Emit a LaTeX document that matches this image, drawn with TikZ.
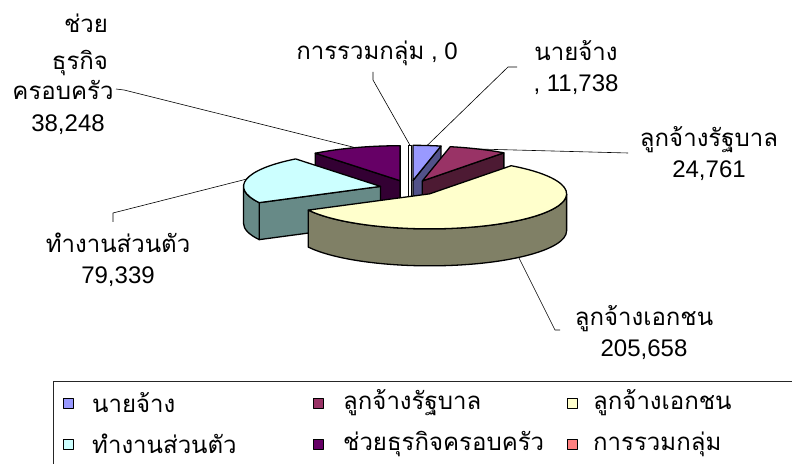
\documentclass[tikz,border=0pt]{standalone}
\usepackage{fontspec}
\setmainfont{Liberation Sans}
\newfontfamily\thaifont[Script=Thai]{Loma}
\usetikzlibrary{calc}
\definecolor{empblue}{HTML}{9999FF}
\definecolor{empblueside}{HTML}{52528A}
\definecolor{govred}{HTML}{993366}
\definecolor{govredside}{HTML}{4D1A33}
\definecolor{privyellow}{HTML}{FFFFCC}
\definecolor{privyellowside}{HTML}{808066}
\definecolor{owncyan}{HTML}{CCFFFF}
\definecolor{owncyanside}{HTML}{678A87}
\definecolor{famplum}{HTML}{660066}
\definecolor{famplumside}{HTML}{330033}
\definecolor{groupsalmon}{HTML}{FF8080}
\def\pierx{137}
\def\piery{35}
\def\pieh{37}
\def\pieex{0.22}
% one exploded slice: name, from angle, to angle, top colour, side colour
\newcommand\pieslice[5]{%
  \pgfmathsetmacro\pmid{(#2+#3)/2}
  \coordinate (#1) at ($(pie_c)+({\pieex*\pierx*cos(\pmid)},{\pieex*\piery*sin(\pmid)})$);
  \coordinate (#1_rim) at ($(#1)+({\pierx*cos(\pmid)},{\piery*sin(\pmid)})$);
  \pgfmathtruncatemacro\pvis{cos(#2)>0.01}
  \ifnum\pvis=1
    \draw [slice,fill=#5] (#1) -- ++({\pierx*cos(#2)},{\piery*sin(#2)}) -- ++(0,-\pieh) -- ++({-\pierx*cos(#2)},{-\piery*sin(#2)}) -- cycle;
  \fi
  \pgfmathtruncatemacro\pvis{cos(#3)<-0.01}
  \ifnum\pvis=1
    \draw [slice,fill=#5] (#1) -- ++({\pierx*cos(#3)},{\piery*sin(#3)}) -- ++(0,-\pieh) -- ++({-\pierx*cos(#3)},{-\piery*sin(#3)}) -- cycle;
  \fi
  \pgfmathsetmacro\plo{max(#2,180)}
  \pgfmathsetmacro\pghi{min(#3,360)}
  \pgfmathtruncatemacro\pvis{\plo<\pghi}
  \ifnum\pvis=1
    \draw [slice,fill=#5] (#1) ++({\pierx*cos(\plo)},{\piery*sin(\plo)}) arc[start angle=\plo,end angle=\pghi,x radius=\pierx,y radius=\piery] -- ++(0,-\pieh) arc[start angle=\pghi,end angle=\plo,x radius=\pierx,y radius=\piery] -- cycle;
  \fi
  \draw [slice,fill=#4] (#1) -- ++({\pierx*cos(#2)},{\piery*sin(#2)}) arc[start angle=#2,end angle=#3,x radius=\pierx,y radius=\piery] -- cycle;
}
\begin{document}
\begin{tikzpicture}[x=1pt,y=1pt,line join=round,
  slice/.style={draw=black,line width=1.3pt},
  leader/.style={draw=black,line width=0.6pt},
  lbl/.style={align=center,inner sep=0pt,font=\fontsize{24}{31}\selectfont},
  lblline/.style={anchor=base,inner sep=0pt,font=\fontsize{24}{31}\selectfont},
  keybox/.style={draw=black,line width=0.9pt,minimum size=10pt,inner sep=0pt},
  keytext/.style={anchor=west,inner sep=0pt,font=\fontsize{24}{31}\selectfont\thaifont}]
\useasboundingbox (0,0) rectangle (792,463);
%%
\coordinate (pie_c) at (410,275);
\pieslice{slice_4}{90}{128.28}{famplum}{famplumside}
\coordinate (slice_5) at ($(pie_c)+(0,{\pieex*\piery})$);
\coordinate (slice_5_rim) at ($(slice_5)+(0,\piery)$);
\draw [slice,fill=white] ($(slice_5)+(-1.8,\piery)$) rectangle ($(slice_5)+(1.8,-\pieh)$);
\pieslice{slice_0}{78.25}{90}{empblue}{empblueside}
\pieslice{slice_1}{53.48}{78.25}{govred}{govredside}
\pieslice{slice_3}{128.28}{207.67}{owncyan}{owncyanside}
\pieslice{slice_2}{207.67}{413.48}{privyellow}{privyellowside}
\coordinate (tip_2) at ($(slice_2_rim)+(0,-\pieh)$);
%%
\node (label_4a) at (86,430) [lblline] {\thaifont ช่วย};
  \node (label_4b) at (80,393) [lblline] {\thaifont ธุรกิจ};
  \node (label_4) at (63,363) [lblline] {\thaifont ครอบครัว};
  \node (label_4c) at (68,331) [lblline] {38,248};
  \node (label_5) at (377,410) [lbl] {{\thaifont การรวมกลุ่ม} , 0};
  \node (label_0) at (576,395) [lbl] {{\thaifont นายจ้าง}\\, 11,738};
  \node (label_1) at (709,309) [lbl] {{\thaifont ลูกจ้างรัฐบาล}\\24,761};
  \node (label_3) at (118,203) [lbl] {{\thaifont ทำงานส่วนตัว}\\79,339};
  \node (label_2) at (644,130) [lbl] {{\thaifont ลูกจ้างเอกชน}\\205,658};
\coordinate (lead_4) at (116,374);
\coordinate (lead_5) at (373,391);
\coordinate (lead_0) at (517,396);
\coordinate (lead_1) at (628,310);
\coordinate (lead_3) at (113,241);
\coordinate (lead_2) at (560,133);
  \draw [leader] (lead_4) -- ++(8,-1) -- (slice_4_rim);
  \draw [leader] (lead_5) -- ++(0,-8) -- (slice_5_rim);
  \draw [leader] (lead_0) -- ++(-9,0) -- (slice_0_rim);
  \draw [leader] (lead_1) -- (slice_1_rim);
  \draw [leader] (lead_3) -- ++(0,9) -- (slice_3_rim);
  \draw [leader] (lead_2) -- ++(-5,0) -- (tip_2);
%
\draw [draw=black!85,line width=0.8pt] (53,82) rectangle (800,-10);
\node (key_0) at (68,60) [keybox,fill=empblue] {};
  \node (key_1) at (318,60) [keybox,fill=govred] {};
  \node (key_2) at (572,60) [keybox,fill=privyellow] {};
  \node (key_3) at (68,19) [keybox,fill=owncyan] {};
  \node (key_4) at (318,19) [keybox,fill=famplum] {};
  \node (key_5) at (572,19) [keybox,fill=groupsalmon] {};
\node (keytext_0) at (92,60) [keytext] {นายจ้าง};
  \node (keytext_1) at (343,60) [keytext] {ลูกจ้างรัฐบาล};
  \node (keytext_2) at (593,60) [keytext] {ลูกจ้างเอกชน};
  \node (keytext_3) at (92,19) [keytext] {ทำงานส่วนตัว};
  \node (keytext_4) at (343,19) [keytext] {ช่วยธุรกิจครอบครัว};
  \node (keytext_5) at (593,19) [keytext] {การรวมกลุ่ม};
%
\end{tikzpicture}
\end{document}
